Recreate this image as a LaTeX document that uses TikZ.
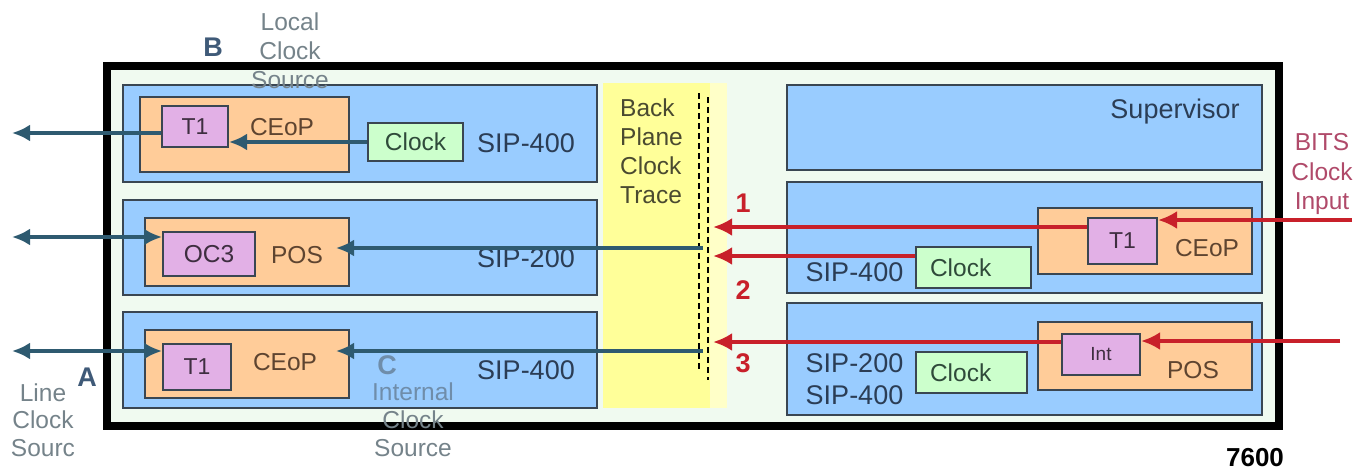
\documentclass[tikz,border=0pt]{standalone}
\usepackage{fontspec}
\setmainfont{Liberation Sans}
\usetikzlibrary{arrows.meta}
\definecolor{paleg}{HTML}{F0FAF0}
\definecolor{boxblue}{HTML}{99CCFF}
\definecolor{boxedge}{HTML}{3A4652}
\definecolor{orng}{HTML}{FFCC99}
\definecolor{pinkb}{HTML}{E2B0E6}
\definecolor{greenb}{HTML}{CCFFCC}
\definecolor{yell}{HTML}{FFFF99}
\definecolor{yelltwo}{HTML}{FFFFC8}
\definecolor{tealarr}{HTML}{2E5A70}
\definecolor{redarr}{HTML}{C8202A}
\definecolor{lbltxt}{HTML}{2B3D55}
\definecolor{brtxt}{HTML}{5E4430}
\definecolor{pktxt}{HTML}{3E2E40}
\definecolor{grtxt}{HTML}{2F4A3A}
\definecolor{bptxt}{HTML}{4A4A30}
\definecolor{graytxt}{HTML}{75838A}
\definecolor{bluegray}{HTML}{6F8DAA}
\definecolor{letblue}{HTML}{3F5A78}
\definecolor{bitstxt}{HTML}{B04A6A}
\newcommand{\szL}{\fontsize{27}{32}\selectfont}
\newcommand{\szM}{\fontsize{24.5}{29}\selectfont}
\newcommand{\szS}{\fontsize{23}{27}\selectfont}
\tikzset{
  boxbase/.style={draw=boxedge, line width=2pt, inner sep=0pt, anchor=center},
  bluebox/.style={boxbase, fill=boxblue},
  orbox/.style={boxbase, fill=orng},
  pkbox/.style={boxbase, fill=pinkb, text=pktxt, font=\szS},
  gnbox/.style={boxbase, fill=greenb, text=grtxt, font=\szM},
  siplbl/.style={text=lbltxt, font=\szL, inner sep=0pt, align=center},
  cardlbl/.style={text=brtxt, font=\szM, inner sep=0pt},
  tealline/.style={draw=tealarr, line width=3.5pt},
  redline/.style={draw=redarr, line width=4pt},
  tealtip/.tip={Latex[length=18pt,width=17pt]},
  redtip/.tip={Latex[length=19pt,width=18pt]},
  bigletter/.style={font=\fontsize{27}{32}\selectfont\bfseries, inner sep=0pt},
  numlbl/.style={text=redarr, font=\fontsize{27}{32}\selectfont\bfseries, inner sep=0pt},
  notelbl/.style={font=\szM, inner sep=0pt, align=center},
  tracedash/.style={draw=black, line width=2pt, dash pattern=on 6pt off 4pt}
}
\begin{document}
\begin{tikzpicture}[x=1pt,y=-1pt]
\useasboundingbox (0,0) rectangle (1370,471);
% chassis
\node[draw=black, line width=8pt, fill=paleg, minimum width=1172, minimum height=360, inner sep=0pt] (chassis) at (693,246) {};
% backplane
\node[fill=yell, minimum width=107, minimum height=325, inner sep=0pt] (trace) at (656.5,245.5) {};
\node[fill=yelltwo, minimum width=17, minimum height=325, inner sep=0pt] (tracer) at (718.5,245.5) {};
\draw[tracedash] (699,93) -- (699,372);
\draw[tracedash] (708,97) -- (708,380);
\node[text=bptxt, font=\szM, align=left, anchor=west, inner sep=0pt] (bptext) at (620,151) {Back\\Plane\\Clock\\Trace};
% left cards
\node[bluebox, minimum width=474, minimum height=97] (sL1) at (360,133.5) {};
\node[bluebox, minimum width=474, minimum height=95] (sL2) at (360,247.5) {};
\node[bluebox, minimum width=474, minimum height=96] (sL3) at (360,360) {};
\node[orbox, minimum width=209, minimum height=75] (oL1) at (244.5,134.5) {};
\node[orbox, minimum width=204, minimum height=68] (oL2) at (247,252) {};
\node[orbox, minimum width=204, minimum height=68] (oL3) at (247,364) {};
\node[pkbox, minimum width=66, minimum height=41] (pL1) at (195,126.5) {T1};
\node[pkbox, minimum width=92, minimum height=44, font=\szM] (pL2) at (209,254) {OC3};
\node[pkbox, minimum width=68, minimum height=46] (pL3) at (197,367) {T1};
\node[gnbox, minimum width=95, minimum height=38] (clockL) at (415.5,142) {Clock};
\node[cardlbl] (ceopL1) at (282,127) {CEoP};
\node[cardlbl] (posL) at (297,255) {POS};
\node[cardlbl] (ceopL3) at (285,362) {CEoP};
\node[siplbl] (sipL1) at (526,143) {SIP-400};
\node[siplbl] (sipL2) at (526,258) {SIP-200};
\node[siplbl] (sipL3) at (526,370) {SIP-400};
% right cards
\node[bluebox, minimum width=475, minimum height=85] (sup) at (1024.5,127.5) {};
\node[bluebox, minimum width=475, minimum height=111] (sR2) at (1024.5,237.5) {};
\node[bluebox, minimum width=475, minimum height=112] (sR3) at (1024.5,359) {};
\node[orbox, minimum width=214, minimum height=66] (oR2) at (1145,241) {};
\node[orbox, minimum width=214, minimum height=68] (oR3) at (1145,356) {};
\node[pkbox, minimum width=69, minimum height=46] (T1R) at (1122.5,241) {T1};
\node[pkbox, minimum width=78, minimum height=41, font=\fontsize{19}{22}\selectfont] (IntR) at (1101,354.5) {Int};
\node[gnbox, minimum width=115, minimum height=41, text width=111, align=left] (clockR2) at (973.5,267.5) {\hspace*{12pt}Clock};
\node[gnbox, minimum width=111, minimum height=41, text width=107, align=left] (clockR3) at (971.5,372.5) {\hspace*{12pt}Clock};
\node[siplbl] (supt) at (1175,112) {Supervisor};
\node[cardlbl] (ceopR) at (1207,248) {CEoP};
\node[cardlbl] (posR) at (1193,370) {POS};
\node[siplbl] (sipR2) at (854.5,272) {SIP-400};
\node[siplbl, font=\fontsize{27}{32}\selectfont] (sipR3) at (854.5,379) {SIP-200\\SIP-400};
% coordinates
\coordinate (outB) at (12,133);
\coordinate (outA2) at (12,237);
\coordinate (outA3) at (12,351);
\coordinate (tr2) at (703,248);
\coordinate (tr3) at (703,351);
\coordinate (in1) at (713,227);
\coordinate (in2) at (713,256);
\coordinate (in3) at (713,342);
\coordinate (bits) at (1352,220);
\coordinate (intin) at (1340,341);
% left arrows
\draw[tealline, -{tealtip}] (clockL.west) -- (pL1.east |- clockL.west);
\draw[tealline, -{tealtip}] (pL1.west |- outB) -- (outB);
\draw[tealline, {tealtip}-{tealtip}] (outA2) -- (pL2.west |- outA2);
\draw[tealline, {tealtip}-{tealtip}] (outA3) -- (pL3.west |- outA3);
\draw[tealline, -{tealtip}] (tr2) -- ([xshift=-14pt]oL2.east |- tr2);
\draw[tealline, -{tealtip}] (tr3) -- ([xshift=-14pt]oL3.east |- tr3);
% right arrows
\draw[redline, -{redtip}] (bits) -- (T1R.east |- bits);
\draw[redline, -{redtip}] (T1R.west |- in1) -- (in1);
\draw[redline, -{redtip}] (clockR2.west |- in2) -- (in2);
\draw[redline, -{redtip}] (intin) -- (IntR.east |- intin);
\draw[redline, -{redtip}] (IntR.west |- in3) -- (in3);
% labels
\node[numlbl] (n1) at (743,203) {1};
\node[numlbl] (n2) at (743,290) {2};
\node[numlbl] (n3) at (743,363) {3};
\node[bigletter, text=letblue] (lB) at (213,47) {B};
\node[notelbl, text=graytxt] (lcs) at (290,51) {Local\\Clock\\Source};
\node[bigletter, text=letblue] (lA) at (87,377) {A};
\node[notelbl, text=graytxt, font=\fontsize{24.5}{27.5}\selectfont] (lncs) at (43,420) {Line\\Clock\\Sourc};
\node[bigletter, text=bluegray] (lC) at (387,365) {C};
\node[notelbl, font=\fontsize{24.5}{28}\selectfont] (ics) at (413,420) {\textcolor{bluegray}{Internal}\\\textcolor{graytxt}{Clock}\\\textcolor{graytxt}{Source}};
\node[notelbl, text=bitstxt, font=\fontsize{24.5}{29.5}\selectfont] (bitst) at (1322,174) {BITS\\Clock\\Input};
\node[font=\fontsize{26}{30}\selectfont\bfseries, inner sep=0pt] (model) at (1255,458) {7600};
\end{tikzpicture}
\end{document}
